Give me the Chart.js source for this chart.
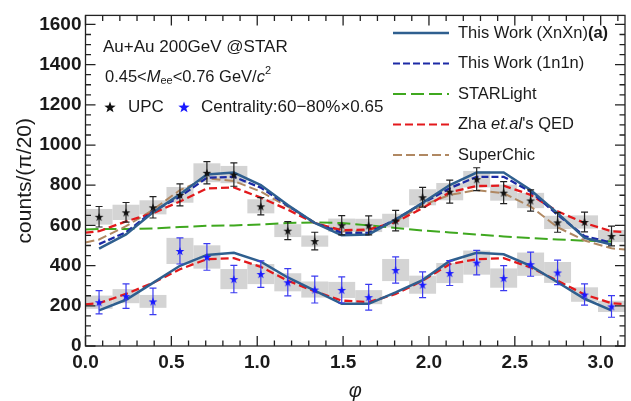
<!DOCTYPE html>
<html>
<head>
<meta charset="utf-8">
<script src="https://cdn.jsdelivr.net/npm/chart.js@4/dist/chart.umd.min.js"></script>
<style>
  html, body { margin: 0; padding: 0; background: #fff; }
  #wrap { width: 631px; height: 401px; }
</style>
</head>
<body>
<div id="wrap"><canvas id="c" width="631" height="401"></canvas></div>
<script>
// bin centres of phi (pi/20 wide bins)
const phi = [0.079, 0.236, 0.393, 0.550, 0.707, 0.864, 1.021, 1.178, 1.335, 1.492,
             1.649, 1.806, 1.963, 2.121, 2.278, 2.435, 2.592, 2.749, 2.906, 3.063];
const binWidth = 0.157;
// same with the edges, for the model curves that run to the frame
const phiFull = [0.0, 0.079, 0.236, 0.393, 0.550, 0.707, 0.864, 1.021, 1.178, 1.335, 1.492,
                 1.649, 1.806, 1.963, 2.121, 2.278, 2.435, 2.592, 2.749, 2.906, 3.063, 3.142];

// data: UPC and 60-80% centrality (x0.65)
const upc     = [643, 665, 690, 752, 862, 853, 695, 574, 522, 601, 600, 624, 740, 768, 830, 763, 724, 615, 617, 547];
const upcErr  = [51, 49, 53, 55, 55, 58, 43, 45, 44, 48, 47, 51, 49, 57, 57, 55, 53, 49, 49, 49];
const upcSys  = [39, 38, 35, 39, 47, 43, 35, 32, 28, 33, 33, 34, 40, 43, 41, 40, 38, 33, 33, 30];
const cent    = [218, 248, 222, 473, 443, 333, 358, 317, 281, 279, 243, 378, 305, 363, 415, 338, 407, 366, 256, 197];
const centErr = [58, 61, 66, 65, 66, 68, 66, 68, 67, 65, 64, 65, 64, 62, 61, 62, 60, 61, 53, 54];
const centSys = [33, 35, 32, 65, 58, 50, 50, 45, 40, 40, 35, 55, 45, 50, 60, 48, 58, 52, 36, 28];

// model curves
const xnxnUpc   = [484, 555, 665, 755, 853, 863, 801, 702, 612, 551, 555, 629, 712, 801, 863, 863, 776, 661, 538, 505];
const xnxnCent  = [177, 230, 314, 399, 453, 464, 420, 341, 276, 210, 210, 267, 328, 423, 464, 456, 399, 317, 235, 177];
const n1n1Upc   = [507, 566, 670, 743, 837, 842, 788, 698, 612, 563, 563, 630, 710, 785, 842, 842, 768, 653, 547, 514];
const starlight = [580, 582, 582, 585, 592, 598, 600, 605, 612, 615, 612, 600, 587, 575, 565, 555, 545, 537, 530, 524, 520, 518];
const zhaUpc    = [564, 571, 620, 661, 719, 784, 789, 738, 678, 612, 576, 580, 617, 686, 765, 796, 798, 752, 670, 612, 571, 567];
const zhaCent   = [207, 213, 259, 314, 382, 432, 437, 394, 325, 272, 226, 218, 259, 325, 407, 432, 437, 391, 325, 256, 213, 208];
const superChic = [515, 530, 596, 678, 776, 834, 821, 768, 693, 615, 570, 575, 620, 700, 752, 776, 760, 694, 591, 525, 486, 480];

const FONT = "'Liberation Sans', Arial, Helvetica, sans-serif";
const COL = {
    xnxn: "#2f5f8f",
    n1n1: "#1c2aa6",
    starlight: "#3fa81f",
    zha: "#e3191c",
    superchic: "#b08862",
    upc: "#111111",
    cent: "#1a1aff",
};

function starCanvas(color, rOut, rIn) {
    const s = Math.ceil(rOut * 2 + 2);
    const c = document.createElement("canvas");
    c.width = s; c.height = s;
    const g = c.getContext("2d");
    g.fillStyle = color;
    g.beginPath();
    for (let i = 0; i < 10; i++) {
        const r = i % 2 ? rIn : rOut;
        const a = -Math.PI / 2 + i * Math.PI / 5;
        g.lineTo(s / 2 + r * Math.cos(a), s / 2 + 0.5 + r * Math.sin(a));
    }
    g.closePath();
    g.fill();
    return c;
}

const pts = (xs, ys) => ys.map((y, i) => ({ x: xs[i], y: y }));

function curve(label, xs, ys, color, dash, width) {
    return {
        label: label,
        data: pts(xs, ys),
        showLine: true,
        borderColor: color,
        backgroundColor: color,
        borderWidth: width,
        borderDash: dash,
        pointRadius: 0,
        tension: 0,
    };
}

// grey systematic boxes, under everything
const boxPlugin = {
    id: "boxes",
    beforeDatasetsDraw(chart) {
        const { ctx, chartArea, scales: { x, y } } = chart;
        ctx.save();
        ctx.beginPath();
        ctx.rect(chartArea.left, chartArea.top, chartArea.width, chartArea.height);
        ctx.clip();
        ctx.fillStyle = "#d4d4d4";
        [[upc, upcSys], [cent, centSys]].forEach(([vals, sys]) => {
            vals.forEach((v, i) => {
                const x0 = x.getPixelForValue(phi[i] - binWidth / 2);
                const x1 = x.getPixelForValue(phi[i] + binWidth / 2);
                const y0 = y.getPixelForValue(v + sys[i]);
                const y1 = y.getPixelForValue(v - sys[i]);
                ctx.fillRect(x0, y0, x1 - x0, y1 - y0);
            });
        });
        ctx.restore();
    },
    // error bars just before their star dataset
    beforeDatasetDraw(chart, args) {
        const ds = chart.data.datasets[args.index];
        if (!ds.errs) return;
        const { ctx, scales: { x, y } } = chart;
        ctx.save();
        ctx.strokeStyle = ds.errColor;
        ctx.lineWidth = 1.2;
        ds.data.forEach((p, i) => {
            const px = x.getPixelForValue(p.x);
            const yt = y.getPixelForValue(p.y + ds.errs[i]);
            const yb = y.getPixelForValue(p.y - ds.errs[i]);
            ctx.beginPath();
            ctx.moveTo(px, yt); ctx.lineTo(px, yb);
            ctx.moveTo(px - 3.5, yt); ctx.lineTo(px + 3.5, yt);
            ctx.moveTo(px - 3.5, yb); ctx.lineTo(px + 3.5, yb);
            ctx.stroke();
        });
        ctx.restore();
    },
};

// frame and inward ticks on all four sides
const framePlugin = {
    id: "frame",
    afterDraw(chart) {
        const { ctx, chartArea: a, scales: { x, y } } = chart;
        ctx.save();
        ctx.strokeStyle = "#222";
        ctx.lineWidth = 1.3;
        ctx.strokeRect(a.left, a.top, a.width, a.height);
        ctx.beginPath();
        for (let k = 0; k <= 31; k++) {
            const v = k / 10;
            const px = x.getPixelForValue(v);
            const len = k % 5 === 0 ? 10 : 5.5;
            ctx.moveTo(px, a.bottom); ctx.lineTo(px, a.bottom - len);
            ctx.moveTo(px, a.top); ctx.lineTo(px, a.top + len);
        }
        for (let v = 0; v <= 1645; v += 50) {
            const py = y.getPixelForValue(v);
            const len = v % 200 === 0 ? 10 : 5.5;
            ctx.moveTo(a.left, py); ctx.lineTo(a.left + len, py);
            ctx.moveTo(a.right, py); ctx.lineTo(a.right - len, py);
        }
        ctx.stroke();
        ctx.restore();
    },
};

// text run with mixed fonts: [text, font, dy]
function drawRich(ctx, parts, x, y) {
    let cx = x;
    parts.forEach(([t, f, dy]) => {
        ctx.font = f;
        ctx.fillText(t, cx, y + (dy || 0));
        cx += ctx.measureText(t).width;
    });
    return cx;
}

const legendRows = [
    { parts: [["This Work (XnXn)", "16.5px " + FONT], ["(a)", "bold 16.5px " + FONT]], color: COL.xnxn, dash: [], width: 2.4 },
    { parts: [["This Work (1n1n)", "16.5px " + FONT]], color: COL.n1n1, dash: [7, 3], width: 2.2 },
    { parts: [["STARLight", "16.5px " + FONT]], color: COL.starlight, dash: [13, 5], width: 2.2 },
    { parts: [["Zha ", "16.5px " + FONT], ["et.al", "italic 16.5px " + FONT], ["'s QED", "16.5px " + FONT]], color: COL.zha, dash: [8, 4], width: 2.2 },
    { parts: [["SuperChic", "16.5px " + FONT]], color: COL.superchic, dash: [9, 4], width: 2.2 },
];

const textPlugin = {
    id: "texts",
    afterDraw(chart) {
        const ctx = chart.ctx;
        ctx.save();
        ctx.fillStyle = "#1a1a1a";
        ctx.textBaseline = "middle";
        ctx.textAlign = "left";

        legendRows.forEach((r, i) => {
            const yy = 33 + i * 30.5;
            ctx.strokeStyle = r.color;
            ctx.lineWidth = r.width;
            ctx.setLineDash(r.dash);
            ctx.beginPath();
            ctx.moveTo(393, yy); ctx.lineTo(449, yy);
            ctx.stroke();
            ctx.setLineDash([]);
            drawRich(ctx, r.parts, 458, yy);
        });

        ctx.font = "17px " + FONT;
        ctx.fillText("Au+Au 200GeV @STAR", 103, 47);

        const f = "16.5px " + FONT, fi = "italic 16.5px " + FONT, fs = "11px " + FONT;
        drawRich(ctx, [["0.45<", f], ["M", fi], ["ee", fs, 4], ["<0.76 GeV/", f], ["c", fi], ["2", fs, -6]], 105, 77);

        const bigBlack = starCanvas(COL.upc, 6, 2.4);
        const bigBlue = starCanvas(COL.cent, 6, 2.4);
        ctx.drawImage(bigBlack, 110 - bigBlack.width / 2, 107 - bigBlack.height / 2);
        ctx.drawImage(bigBlue, 184 - bigBlue.width / 2, 107 - bigBlue.height / 2);
        ctx.font = "17px " + FONT;
        ctx.fillText("UPC", 128, 107);
        ctx.fillText("Centrality:60\u221280%\u00d70.65", 201, 107);
        ctx.restore();
    },
};

const tickFont = { family: FONT, size: 19, weight: "bold" };

new Chart(document.getElementById("c"), {
    type: "scatter",
    data: {
        datasets: [
            {
                label: "UPC",
                data: pts(phi, upc),
                pointStyle: starCanvas(COL.upc, 4.6, 1.85),
                pointRadius: 5,
                showLine: false,
                errs: upcErr,
                errColor: "#222",
            },
            {
                label: "Centrality:60-80%x0.65",
                data: pts(phi, cent),
                pointStyle: starCanvas(COL.cent, 4.6, 1.85),
                pointRadius: 5,
                showLine: false,
                errs: centErr,
                errColor: "#3b3bf0",
            },
            curve("This Work (XnXn)", phi, xnxnUpc, COL.xnxn, [], 2.5),
            curve("This Work (XnXn) cent", phi, xnxnCent, COL.xnxn, [], 2.5),
            curve("This Work (1n1n)", phi, n1n1Upc, COL.n1n1, [7, 3], 2.3),
            curve("Zha et.al's QED", phiFull, zhaUpc, COL.zha, [8, 4], 2.3),
            curve("Zha et.al's QED cent", phiFull, zhaCent, COL.zha, [8, 4], 2.3),
            curve("SuperChic", phiFull, superChic, COL.superchic, [9, 4], 2.0),
            curve("STARLight", phiFull.slice(0, 21), starlight.slice(0, 21), COL.starlight, [13, 5], 2.0),
        ],
    },
    options: {
        responsive: false,
        animation: false,
        events: [],
        layout: { padding: { top: 12.7, right: 4.5, left: 0, bottom: 0 } },
        plugins: { legend: { display: false }, tooltip: { enabled: false } },
        scales: {
            x: {
                type: "linear",
                min: 0,
                max: Math.PI,
                grid: { display: false, drawTicks: false },
                border: { display: false },
                ticks: {
                    stepSize: 0.5,
                    includeBounds: false,
                    padding: 5,
                    color: "#1a1a1a",
                    font: tickFont,
                    maxRotation: 0,
                    callback: (v) => v.toFixed(1),
                },
                title: {
                    display: true,
                    text: "\u03c6",
                    color: "#1a1a1a",
                    font: { family: FONT, size: 20, style: "italic", lineHeight: 1 },
                    padding: 0,
                },
                afterFit: (s) => { s.height = 55; },
            },
            y: {
                min: 0,
                max: 1645,
                grid: { display: false, drawTicks: false },
                border: { display: false },
                ticks: {
                    stepSize: 200,
                    includeBounds: false,
                    padding: 4,
                    color: "#1a1a1a",
                    font: tickFont,
                    callback: (v) => String(v),
                },
                title: {
                    display: true,
                    text: "counts/(\u03c0/20)",
                    color: "#1a1a1a",
                    font: { family: FONT, size: 21, lineHeight: 1 },
                    padding: { top: 15, bottom: 0 },
                },
                afterFit: (s) => { s.width = 85.5; },
            },
        },
    },
    plugins: [boxPlugin, framePlugin, textPlugin],
});
</script>
</body>
</html>
